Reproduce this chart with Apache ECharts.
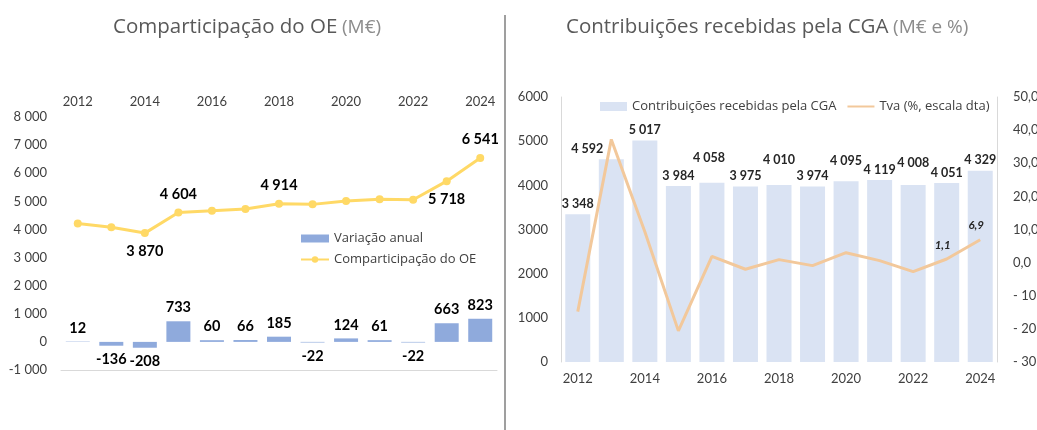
<!DOCTYPE html>
<html>
<head>
<meta charset="utf-8">
<script src="https://cdn.jsdelivr.net/npm/echarts@6/dist/echarts.min.js"></script>
<style>
  html, body { margin: 0; padding: 0; background: #fff; }
  #chart { width: 1037px; height: 430px; }
</style>
</head>
<body>
<div id="chart"></div>
<script>
// dados
const years = ['2012', '2013', '2014', '2015', '2016', '2017', '2018', '2019', '2020', '2021', '2022', '2023', '2024'];
// Comparticipação do OE (M€)
const variacaoAnual = [12, -136, -208, 733, 60, 66, 185, -22, 124, 61, -22, 663, 823];
const comparticipacaoOE = [4214, 4078, 3870, 4604, 4664, 4730, 4914, 4892, 5016, 5077, 5055, 5718, 6541];
// Contribuições recebidas pela CGA (M€ e %)
const contribuicoesCGA = [3348, 4592, 5017, 3984, 4058, 3975, 4010, 3974, 4095, 4119, 4008, 4051, 4329];
const tva = [-14.8, 37.2, 9.3, -20.6, 1.9, -2.0, 0.9, -0.9, 3.0, 0.6, -2.7, 1.1, 6.9];

const FONT = 'Lato, "Noto Sans", sans-serif';
const TITLE_FONT = '"Open Sans", "Noto Sans", sans-serif';

// formato pt: "8 000"
const fmtThousands = v => String(Math.round(v)).replace(/\B(?=(\d{3})+(?!\d))/g, ' ');
const fmtPct = v => {
  const s = Math.abs(v).toFixed(1).replace('.', ',');
  return v < 0 ? '- ' + s : s;
};

// quais rótulos mostrar na linha do OE (e onde)
const oeLabelPos = { 2: 'bottom', 3: 'top', 6: 'top', 11: 'bottom', 12: 'top' };
// rótulos das barras CGA que no original estão mais acima / deslocados
const cgaLabelOffset = { 1: [-24, 0], 4: [-3, -14], 6: [0, -14], 8: [0, -10], 10: [0, -12] };

const myEcharts = echarts.init(document.getElementById('chart'));

const titleRich = {
  a: { fontFamily: TITLE_FONT, fontSize: 20.5, fontWeight: 'normal', color: '#595959' },
  b: { fontFamily: TITLE_FONT, fontSize: 19, fontWeight: 'normal', color: '#8c8c8c' }
};

const option = {
  animation: false,
  textStyle: { fontFamily: FONT },
  title: [
    {
      text: '{a|Comparticipação do OE} {b|(M€)}',
      left: 108, top: 12,
      textStyle: { fontWeight: 'normal', rich: titleRich }
    },
    {
      text: '{a|Contribuições recebidas pela CGA} {b|(M€ e %)}',
      left: 561, top: 12,
      textStyle: { fontWeight: 'normal', rich: titleRich }
    }
  ],
  legend: [
    {
      orient: 'vertical', left: 295, top: 227, itemGap: 8,
      itemWidth: 28, itemHeight: 8,
      textStyle: { fontFamily: TITLE_FONT, fontSize: 13, color: '#404040' },
      data: [
        { name: 'Variação anual', icon: 'rect' },
        { name: 'Comparticipação do OE' }
      ]
    },
    {
      left: 595, top: 95, itemGap: 10,
      itemWidth: 27, itemHeight: 9,
      textStyle: { fontFamily: TITLE_FONT, fontSize: 13, color: '#404040' },
      data: [
        { name: 'Contribuições recebidas pela CGA', icon: 'rect' },
        { name: 'Tva (%, escala dta)', itemStyle: { opacity: 0 } }
      ]
    }
  ],
  grid: [
    { left: 61, width: 436, top: 117, height: 253, outerBoundsMode: 'none' },
    { left: 561, width: 436, top: 97, height: 265, outerBoundsMode: 'none' }
  ],
  xAxis: [
    {
      type: 'category', gridIndex: 0, position: 'top', data: years,
      axisLine: { show: false }, axisTick: { show: false },
      axisLabel: { interval: 1, margin: 9, fontSize: 13, color: '#404040' }
    },
    {
      // linha do zero
      type: 'category', gridIndex: 0, position: 'bottom', data: years,
      axisLine: { onZero: true, lineStyle: { color: '#d9d9d9', width: 1 } },
      axisTick: { show: false }, axisLabel: { show: false }
    },
    {
      type: 'category', gridIndex: 1, data: years,
      axisLine: { show: false }, axisTick: { show: false },
      axisLabel: { interval: 1, margin: 10, fontSize: 13, color: '#404040' }
    }
  ],
  yAxis: [
    {
      type: 'value', gridIndex: 0, min: -1000, max: 8000, interval: 1000,
      splitLine: { show: false }, axisLine: { show: false }, axisTick: { show: false },
      axisLabel: { margin: 14, fontSize: 13, color: '#404040', formatter: fmtThousands }
    },
    {
      type: 'value', gridIndex: 1, min: 0, max: 6000, interval: 1000,
      splitLine: { show: false },
      axisLine: { show: true, lineStyle: { color: '#d9d9d9' } }, axisTick: { show: false },
      axisLabel: { margin: 13, fontSize: 13, color: '#404040', formatter: v => String(v) }
    },
    {
      type: 'value', gridIndex: 1, position: 'right', min: -30, max: 50, interval: 10,
      splitLine: { show: false },
      axisLine: { show: true, lineStyle: { color: '#d9d9d9' } }, axisTick: { show: false },
      axisLabel: { margin: 16, fontSize: 13, color: '#404040', formatter: fmtPct }
    }
  ],
  series: [
    {
      name: 'Variação anual', type: 'bar', xAxisIndex: 0, yAxisIndex: 0,
      barWidth: 24,
      itemStyle: { color: '#8faadc' },
      data: variacaoAnual.map(v => ({
        value: v,
        label: { position: v >= 0 ? 'top' : 'bottom' }
      })),
      label: {
        show: true, distance: 6, fontSize: 14.5, fontWeight: 'bold', color: '#000',
        formatter: p => fmtThousands(p.value)
      }
    },
    {
      name: 'Comparticipação do OE', type: 'line', xAxisIndex: 0, yAxisIndex: 0,
      symbol: 'circle', symbolSize: 8,
      itemStyle: { color: '#ffd966' },
      lineStyle: { color: '#ffd966', width: 3 },
      data: comparticipacaoOE.map((v, i) => ({
        value: v,
        label: oeLabelPos[i] ? { show: true, position: oeLabelPos[i] } : { show: false }
      })),
      label: {
        distance: 7, fontSize: 14.5, fontWeight: 'bold', color: '#000',
        formatter: p => fmtThousands(p.value)
      }
    },
    {
      name: 'Contribuições recebidas pela CGA', type: 'bar', xAxisIndex: 2, yAxisIndex: 1,
      barWidth: 25,
      itemStyle: { color: '#dae3f3' },
      data: contribuicoesCGA.map((v, i) => ({
        value: v,
        label: cgaLabelOffset[i] ? { offset: cgaLabelOffset[i] } : {}
      })),
      label: {
        show: true, position: 'top', distance: 4, fontSize: 12.5, fontWeight: 'bold', color: '#262626',
        formatter: p => fmtThousands(p.value)
      },
      z: 1
    },
    {
      name: 'Tva (%, escala dta)', type: 'line', xAxisIndex: 2, yAxisIndex: 2,
      symbol: 'circle', symbolSize: 0, showAllSymbol: true,
      lineStyle: { color: '#f2c89b', width: 3 },
      itemStyle: { color: '#f2c89b' },
      data: tva.map((v, i) => ({
        value: v,
        label: i >= 11 ? { show: true } : { show: false }
      })),
      label: {
        position: 'top', distance: 8, offset: [-4, 0],
        fontSize: 11.5, fontWeight: 'bold', fontStyle: 'italic', color: '#262626',
        formatter: p => p.value.toFixed(1).replace('.', ',')
      },
      z: 3
    }
  ],
  graphic: [
    {
      type: 'line', shape: { x1: 505, y1: 15, x2: 505, y2: 430 },
      style: { stroke: '#7f7f7f', lineWidth: 1.5 }
    }
  ]
};

myEcharts.setOption(option);
window.onresize = () => { myEcharts.resize(); };
</script>
</body>
</html>
